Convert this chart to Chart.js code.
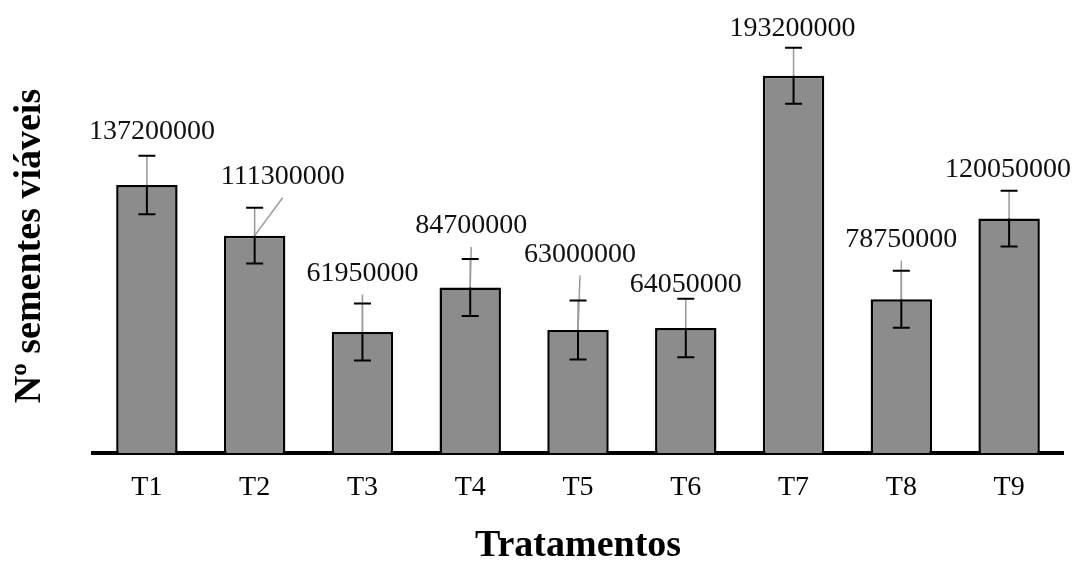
<!DOCTYPE html>
<html>
<head>
<meta charset="utf-8">
<script src="https://cdn.jsdelivr.net/npm/chart.js@4/dist/chart.umd.min.js"></script>
<style>
  body { margin: 0; background: #fff; }
  #wrap { width: 1080px; height: 565px; }
</style>
</head>
<body>
<div id="wrap"><canvas id="seedChart" width="1080" height="565"></canvas></div>
<script>
const categories = ['T1', 'T2', 'T3', 'T4', 'T5', 'T6', 'T7', 'T8', 'T9'];
const seeds = [137200000, 111300000, 61950000, 84700000, 63000000, 64050000, 193200000, 78750000, 120050000];
const seedErrors = [15000000, 14300000, 14600000, 14600000, 15100000, 15000000, 14300000, 14600000, 14300000];

// where each value label sits, relative to the top of its error bar (px)
const labelShift = [[5, -24], [28, -31], [0, -30], [1, -33], [2, -46], [0, -14], [-1, -19], [0, -31], [-1, -21]];
const hasLeader = [false, true, true, true, true, false, false, true, false];

const serif = '"Liberation Serif", "Times New Roman", serif';

const errorBars = {
    id: 'errorBars',
    afterDatasetsDraw(chart) {
        const ctx = chart.ctx;
        const y = chart.scales.y;
        const bars = chart.getDatasetMeta(0).data;
        ctx.save();
        bars.forEach((bar, i) => {
            const top = y.getPixelForValue(seeds[i] + seedErrors[i]);
            const bottom = y.getPixelForValue(seeds[i] - seedErrors[i]);
            const lx = bar.x + labelShift[i][0];
            const ly = top + labelShift[i][1];

            // thin grey part above the bar
            ctx.strokeStyle = '#9a9a9a';
            ctx.lineWidth = 1.5;
            ctx.beginPath();
            ctx.moveTo(bar.x, bar.y);
            ctx.lineTo(bar.x, top);
            ctx.stroke();

            if (hasLeader[i]) {
                ctx.beginPath();
                ctx.moveTo(bar.x, bar.y);
                ctx.lineTo(lx, ly + 21);
                ctx.stroke();
            }

            ctx.strokeStyle = '#000';
            ctx.lineWidth = 2;
            ctx.beginPath();
            ctx.moveTo(bar.x, bar.y);
            ctx.lineTo(bar.x, bottom);
            ctx.moveTo(bar.x - 8.5, top);
            ctx.lineTo(bar.x + 8.5, top);
            ctx.moveTo(bar.x - 8.5, bottom);
            ctx.lineTo(bar.x + 8.5, bottom);
            ctx.stroke();

            ctx.fillStyle = '#111';
            ctx.font = '28px ' + serif;
            ctx.textAlign = 'center';
            ctx.textBaseline = 'middle';
            ctx.fillText(String(seeds[i]), lx, ly);
        });
        ctx.restore();
    }
};

const ctx = document.getElementById('seedChart').getContext('2d');

const seedChart = new Chart(ctx, {
    type: 'bar',
    data: {
        labels: categories,
        datasets: [{
            data: seeds,
            backgroundColor: '#8c8c8c',
            borderColor: '#000',
            borderWidth: 2.5,
            barPercentage: 0.57,
            categoryPercentage: 1
        }]
    },
    options: {
        responsive: false,
        animation: false,
        layout: {
            padding: {top: 39, right: 17, bottom: 0, left: 0}
        },
        scales: {
            x: {
                afterFit: (scale) => { scale.height = 112; },
                grid: {display: false, drawTicks: false},
                border: {display: true, color: '#000', width: 4},
                ticks: {
                    color: '#000',
                    padding: 18,
                    font: {family: serif, size: 28}
                },
                title: {
                    display: true,
                    text: 'Tratamentos',
                    color: '#000',
                    padding: 0,
                    font: {family: serif, size: 38, weight: 'bold', lineHeight: 1}
                }
            },
            y: {
                min: 0,
                max: 212000000,
                afterFit: (scale) => { scale.width = 93; },
                grid: {display: false, drawTicks: false},
                border: {display: false},
                ticks: {display: false},
                title: {
                    display: true,
                    text: 'Nº sementes viáveis',
                    color: '#000',
                    padding: {top: 11, bottom: 0},
                    font: {family: serif, size: 38, weight: 'bold', lineHeight: 1}
                }
            }
        },
        plugins: {
            legend: {display: false},
            tooltip: {enabled: false}
        }
    },
    plugins: [errorBars]
});
</script>
</body>
</html>
